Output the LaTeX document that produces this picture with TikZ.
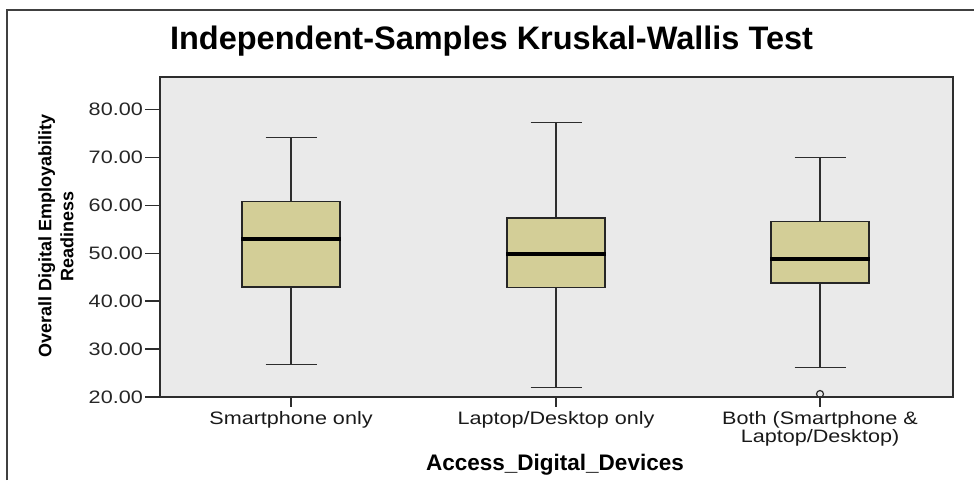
\documentclass[tikz,border=0pt]{standalone}
\usepackage{fontspec}
\setmainfont{Liberation Sans}
\newfontfamily\widefont[FakeStretch=1.2]{Liberation Sans}
\definecolor{plotbg}{RGB}{234,234,234}
\definecolor{boxfill}{RGB}{211,206,151}
\definecolor{framecol}{RGB}{45,45,45}
\begin{document}
\begin{tikzpicture}[x=1pt,y=-1pt,
  axisline/.style={draw=framecol,line width=1.6pt},
  whisk/.style={draw=framecol,line width=1.5pt},
  boxstyle/.style={draw=black!85,fill=boxfill,line width=1.6pt},
  medline/.style={draw=black,line width=4pt},
  ticklab/.style={anchor=east,inner sep=0pt,font=\widefont\fontsize{18}{20}\selectfont,text=black!85},
  catlab/.style={inner sep=0pt,align=center,font=\widefont\fontsize{18}{18}\selectfont,text=black!90},
  ]
\useasboundingbox (0,0) rectangle (974,480);
% outer frame
\draw[line width=1.4pt,draw=black!75] (7,480) -- (7,10) -- (974,10);
% title
\node[font=\bfseries\fontsize{32.5}{35}\selectfont,inner sep=0pt] (title) at (491.5,41) {Independent-Samples Kruskal-Wallis Test};
% plot area
\fill[plotbg] (160,77) rectangle (953,397);
% y ticks and labels
\foreach \v in {20,30,...,80}{
  \pgfmathsetmacro\yy{397-(\v-20)*4.79}
  \draw[axisline] (145,\yy) -- (160,\yy);
  \node[ticklab] (t\v) at (143,\yy) {\v.00};
}
% boxes: centre, whisker top, q3, median, q1, whisker bottom
\foreach \c/\wt/\qt/\md/\qb/\wb [count=\i] in {291/137.5/200.5/238.5/286/364.5, 556/122.5/217/253.5/286.5/387.5, 820/157.5/220.5/258.5/282/367.5}{
  \draw[whisk] (\c,\wt) -- (\c,\qt);
  \draw[whisk] (\c,\qb) -- (\c,\wb);
  \draw[whisk] (\c-25.5,\wt) -- (\c+25.5,\wt);
  \draw[whisk] (\c-25.5,\wb) -- (\c+25.5,\wb);
  \node[boxstyle,minimum width=98pt,minimum height={\qb-\qt},inner sep=0pt,anchor=north] (box\i) at (\c,\qt) {};
  \draw[medline] (box\i.west |- {0,\md}) -- (box\i.east |- {0,\md});
  \draw[axisline] (\c,397) -- (\c,407);
}
% outlier
\draw[draw=framecol,line width=1.2pt] (820,394) circle[radius=3.5pt];
% plot frame
\draw[axisline] (160,77) rectangle (953,397);
% category labels
\node[catlab] (c1) at (291,420) {Smartphone only};
\node[catlab] (c2) at (556,420) {Laptop/Desktop only};
\node[catlab] (c3) at (820,429) {Both (Smartphone \&\\Laptop/Desktop)};
% axis titles
\node[font=\bfseries\fontsize{22.5}{24}\selectfont,inner sep=0pt] (xlab) at (555,465) {Access\_Digital\_Devices};
\node[rotate=90,align=center,inner sep=0pt,font=\bfseries\fontsize{18}{22}\selectfont] (ylab) at (56,236) {Overall Digital Employability\\Readiness};
\end{tikzpicture}
\end{document}
